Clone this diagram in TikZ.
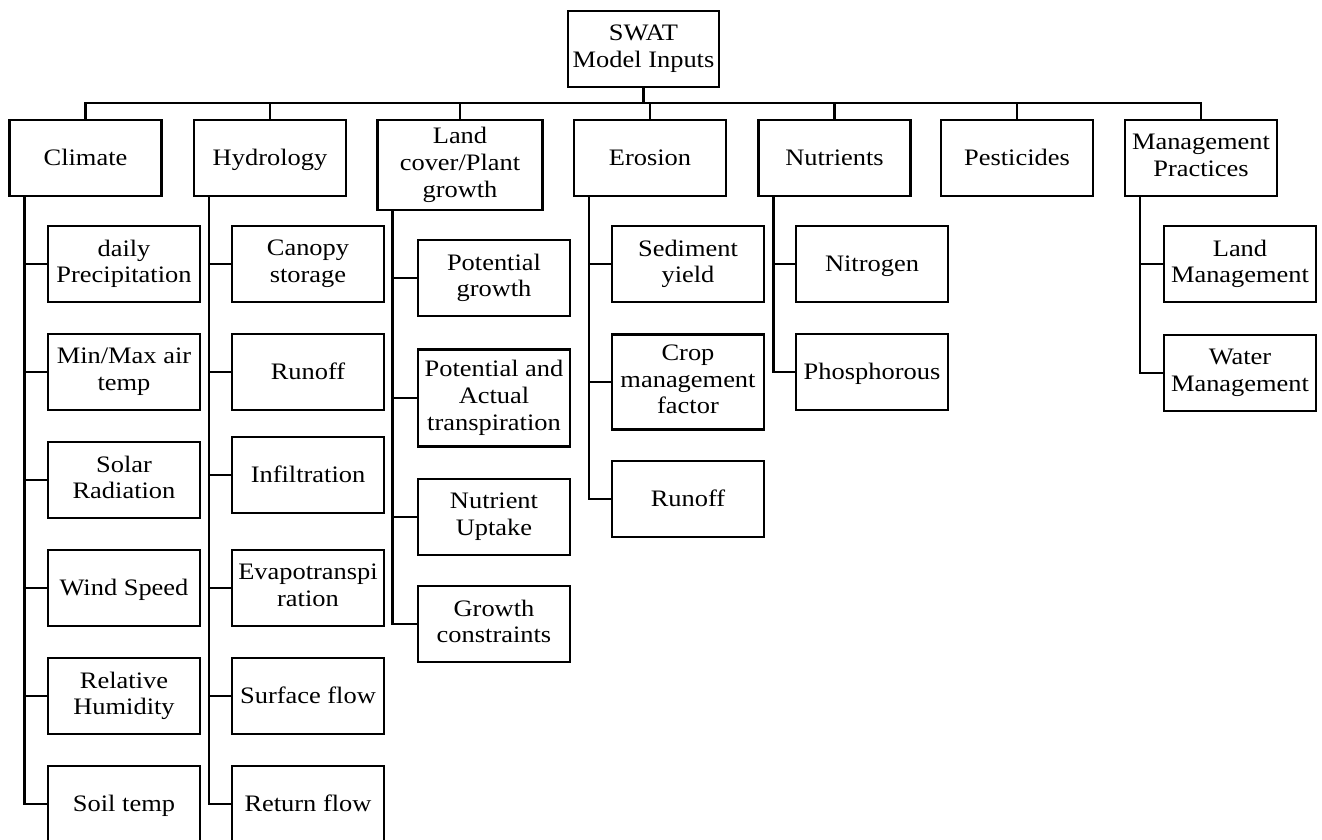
\documentclass[tikz,border=0pt]{standalone}
\usepackage{fontspec}
\setmainfont{Liberation Serif}[FakeStretch=1.12]
\usetikzlibrary{calc,positioning}
\newcommand{\boxfont}{\fontsize{23.6}{26.7}\selectfont}
\newcommand{\boxstrut}{\rule[-5.5pt]{0pt}{26.7pt}}
\tikzset{
  box/.style={draw, line width=2.2pt, minimum width=152pt, minimum height=76pt,
    align=center, inner sep=2pt, font=\boxfont,
    execute at begin node=\boxstrut, execute at end node=\boxstrut},
  link/.style={line width=2.2pt},
}

\begin{document}
\begin{tikzpicture}[x=1pt,y=-1pt]
    \useasboundingbox (0,0) rectangle (1322,839);
    % root
    \node[box, minimum width=151pt] (swat) at (643.5,49) {SWAT\\Model Inputs};
    \coordinate (bus) at (643.5,103);

    % input groups
    \node[box, anchor=north] (clim) at (85.5,119) {Climate};
    \node[box, anchor=north] (hydro) at (270,119) {Hydrology};
    \node[box, anchor=north, minimum width=165pt, minimum height=90pt] (land) at (460,119) {Land\\cover/Plant\\growth};
    \node[box, anchor=north] (eros) at (650,119) {Erosion};
    \node[box, anchor=north] (nutr) at (834.5,119) {Nutrients};
    \node[box, anchor=north] (pest) at (1017,119) {Pesticides};
    \node[box, anchor=north] (mgmt) at (1201,119) {Management\\Practices};

    % climate
    \node[box] (precip) at (124,264) {daily\\Precipitation};
    \node[box] (airtemp) at (124,372) {Min/Max air\\temp};
    \node[box] (solar) at (124,480) {Solar\\Radiation};
    \node[box] (wind) at (124,588) {Wind Speed};
    \node[box] (humid) at (124,696) {Relative\\Humidity};
    \node[box] (soiltemp) at (124,804) {Soil temp};

    % hydrology
    \node[box] (canopy) at (308,264) {Canopy\\storage};
    \node[box] (hroff) at (308,372) {Runoff};
    \node[box] (infil) at (308,475) {Infiltration};
    \node[box] (evapo) at (308,588) {Evapotranspi\\ration};
    \node[box] (surf) at (308,696) {Surface flow};
    \node[box] (retflow) at (308,804) {Return flow};

    % land cover
    \node[box] (potgrow) at (494,278) {Potential\\growth};
    \node[box, minimum height=97pt] (transp) at (494,398) {Potential and\\Actual\\transpiration};
    \node[box] (uptake) at (494,517) {Nutrient\\Uptake};
    \node[box] (constr) at (494,624) {Growth\\constraints};

    % erosion
    \node[box] (sedim) at (688,264) {Sediment\\yield};
    \node[box, minimum height=95pt] (crop) at (688,382) {Crop\\management\\factor};
    \node[box] (eroff) at (688,499) {Runoff};

    % nutrients
    \node[box] (nitro) at (872,264) {Nitrogen};
    \node[box] (phos) at (872,372) {Phosphorous};

    % management
    \node[box] (landm) at (1240,264) {Land\\Management};
    \node[box] (waterm) at (1240,373) {Water\\Management};

    % root to groups
    \draw[link] (swat.south) -- (bus);
    \draw[link] (clim.north) |- (bus) -| (mgmt.north);
    \foreach \g in {hydro,land,eros,nutr,pest}
        \draw[link] (\g.north) -- (\g.north |- bus);

    % groups to items
    \foreach \p/\kids in {clim/{precip,airtemp,solar,wind,humid,soiltemp},
                          hydro/{canopy,hroff,infil,evapo,surf,retflow},
                          land/{potgrow,transp,uptake,constr},
                          eros/{sedim,crop,eroff},
                          nutr/{nitro,phos},
                          mgmt/{landm,waterm}}
        \foreach \c in \kids
            \draw[link] ($(\p.south west)+(16,0)$) |- (\c.west);
\end{tikzpicture}
\end{document}
